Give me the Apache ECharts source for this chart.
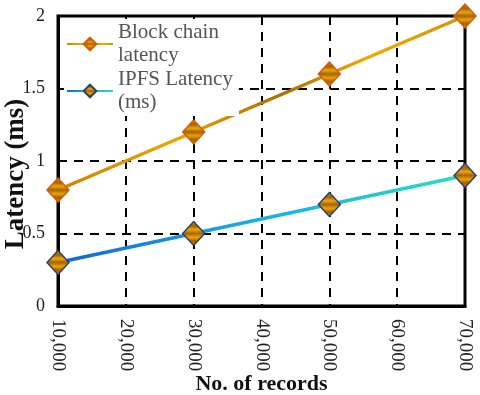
<!DOCTYPE html>
<html><head><meta charset="utf-8">
<script src="https://cdn.jsdelivr.net/npm/echarts@6/dist/echarts.min.js"></script>
<style>html,body{margin:0;padding:0;background:#fff}#c{width:480px;height:395px}</style>
</head><body><div id="c"></div>
<script>
const records = [10000, 30000, 50000, 70000];
const blockchainLatency = [0.8, 1.2, 1.6, 2.0];
const ipfsLatency = [0.3, 0.5, 0.7, 0.9];
const seriesNames = ['Block chain latency', 'IPFS Latency (ms)'];
const legendLabels = {'Block chain latency': 'Block chain\nlatency', 'IPFS Latency (ms)': 'IPFS Latency\n(ms)'};

const G = echarts.graphic;
const stripe = () => new G.LinearGradient(0, 0, 0, 1, [
  {offset: 0, color: '#f0a000'}, {offset: 0.2, color: '#9a6200'},
  {offset: 0.35, color: '#f2a400'}, {offset: 0.5, color: '#a06600'},
  {offset: 0.65, color: '#f0a000'}, {offset: 0.8, color: '#9a6200'},
  {offset: 1, color: '#e09000'}]);
const bcLine = new G.LinearGradient(0, 0, 1, 0, [
  {offset: 0, color: '#c88400'}, {offset: 0.3, color: '#f0a400'},
  {offset: 0.55, color: '#a87000'}, {offset: 0.75, color: '#f2a800'}, {offset: 1, color: '#d89200'}]);
const ipLine = new G.LinearGradient(0, 0, 1, 0, [
  {offset: 0, color: '#1466d0'}, {offset: 0.5, color: '#18b0e8'}, {offset: 1, color: '#28e0b8'}]);

const chart = echarts.init(document.getElementById('c'));
chart.setOption({
  animation: false,
  grid: {left: 58, right: 15, top: 16, bottom: 89, outerBoundsMode: 'none', containLabel: false,
    show: true, borderColor: '#000', borderWidth: 3, backgroundColor: 'transparent'},
  legend: {
    left: 64, top: 19, orient: 'vertical', itemGap: 1, itemWidth: 46, itemHeight: 16,
    backgroundColor: '#fff', padding: [2, 6, 2, 2],
    data: seriesNames,
    formatter: n => legendLabels[n],
    textStyle: {fontFamily: 'Liberation Serif', fontSize: 21, color: '#555', lineHeight: 23}
  },
  xAxis: {
    type: 'value', min: 10000, max: 70000, interval: 10000,
    name: 'No. of records', nameLocation: 'middle', nameGap: 67, nameMoveOverlap: false,
    nameTextStyle: {fontFamily: 'Liberation Serif', fontWeight: 'bold', fontSize: 22, color: '#111'},
    axisLine: {lineStyle: {color: '#000', width: 3}},
    axisTick: {show: false},
    axisLabel: {rotate: -90, margin: 13, fontFamily: 'Liberation Serif', fontSize: 19, color: '#222',
      formatter: v => v.toLocaleString('en-US')},
    splitLine: {show: true, lineStyle: {color: '#000', width: 2, type: [9, 7]}}
  },
  yAxis: {
    type: 'value', min: 0, max: 2, interval: 0.5,
    name: 'Latency (ms)', nameLocation: 'middle', nameGap: 28, nameMoveOverlap: false,
    nameTextStyle: {fontFamily: 'Liberation Serif', fontWeight: 'bold', fontSize: 27, color: '#111',
      padding: [0, 26, 0, 0]},
    axisLine: {show: true, lineStyle: {color: '#000', width: 3}},
    axisTick: {show: false},
    axisLabel: {margin: 13, fontFamily: 'Liberation Serif', fontSize: 18, color: '#222'},
    splitLine: {show: true, lineStyle: {color: '#000', width: 2, type: [9, 7]}}
  },
  series: [
    {name: seriesNames[0], type: 'line', data: records.map((r, i) => [r, blockchainLatency[i]]),
      symbol: 'diamond', symbolSize: [22, 24], z: 3,
      lineStyle: {width: 3.5, color: bcLine},
      itemStyle: {color: stripe(), borderColor: '#d85a10', borderWidth: 1.5}},
    {name: seriesNames[1], type: 'line', data: records.map((r, i) => [r, ipfsLatency[i]]),
      symbol: 'diamond', symbolSize: [22, 24], z: 3,
      lineStyle: {width: 3.5, color: ipLine},
      itemStyle: {color: stripe(), borderColor: '#2a3f70', borderWidth: 1.5}}
  ]
});
</script></body></html>
